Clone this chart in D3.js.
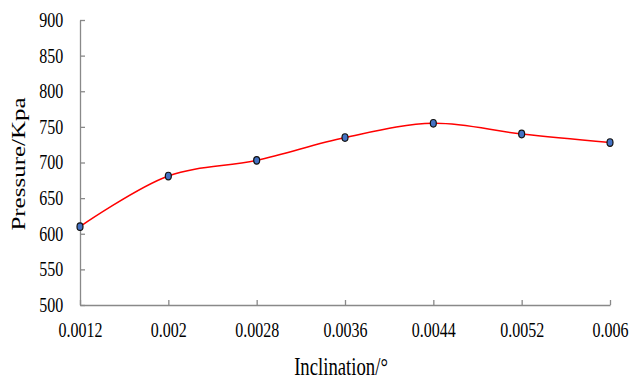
<!DOCTYPE html>
<html>
<head>
<meta charset="utf-8">
<script src="https://cdn.jsdelivr.net/npm/d3@7"></script>
<style>
  body { margin: 0; background: #fff; }
  svg text { font-family: "Times New Roman", "Liberation Serif", "DejaVu Serif", serif; }
</style>
</head>
<body>
<div id="chart"></div>
<script>
// data
const inclination = [0.0012, 0.002, 0.0028, 0.0036, 0.0044, 0.0052, 0.006];
const pressure = [610, 681, 703, 735, 755, 740, 728];
const xTicks = [0.0012, 0.002, 0.0028, 0.0036, 0.0044, 0.0052, 0.006];
const yTicks = [500, 550, 600, 650, 700, 750, 800, 850, 900];

const width = 633, height = 381;
const margin = { top: 20, right: 23, bottom: 76, left: 80 };
const squash = 0.8; // text in the picture is narrow
const serif = "'Times New Roman', 'Liberation Serif', 'DejaVu Serif', serif";

const svg = d3.select("#chart").append("svg")
  .attr("width", width)
  .attr("height", height);

const x = d3.scaleLinear()
  .domain([0.0012, 0.006])
  .range([margin.left, width - margin.right]);

const y = d3.scaleLinear()
  .domain([500, 900])
  .range([height - margin.bottom, margin.top]);

// x axis, ticks pointing inward
const xAxis = svg.append("g")
  .attr("transform", "translate(0," + (height - margin.bottom) + ")")
  .call(d3.axisBottom(x)
    .tickValues(xTicks)
    .tickFormat(d => String(+d.toFixed(4)))
    .tickSizeInner(-5)
    .tickSizeOuter(0)
    .tickPadding(18));

const yAxis = svg.append("g")
  .attr("transform", "translate(" + margin.left + ",0)")
  .call(d3.axisLeft(y)
    .tickValues(yTicks)
    .tickSizeInner(-5)
    .tickSizeOuter(0)
    .tickPadding(21));

[xAxis, yAxis].forEach(g => {
  g.attr("font-family", serif);
  g.select(".domain").attr("stroke", "#898989").attr("stroke-width", 1.3);
  g.selectAll(".tick line").attr("stroke", "#898989").attr("stroke-width", 1.3);
  g.selectAll(".tick text")
    .attr("fill", "#000")
    .style("font-size", "20px")
    .style("font-family", serif)
    .attr("transform", "scale(" + squash + ",1)");
});

// axis titles
svg.append("text")
  .attr("transform", "translate(" + 341 + "," + 375 + ") scale(0.72,1)")
  .attr("text-anchor", "middle")
  .style("font-family", serif)
  .style("font-size", "26px")
  .text("Inclination/°");

svg.append("text")
  .attr("transform", "translate(" + 25 + "," + 164 + ") scale(0.75,1) rotate(-90)")
  .attr("text-anchor", "middle")
  .style("font-family", serif)
  .style("font-size", "25px")
  .text("Pressure/Kpa");

// smoothed line
const pts = inclination.map((d, i) => [d, pressure[i]]);
const line = d3.line()
  .x(d => x(d[0]))
  .y(d => y(d[1]))
  .curve(d3.curveCatmullRom.alpha(0.5));

svg.append("path")
  .datum(pts)
  .attr("fill", "none")
  .attr("stroke", "#ff0000")
  .attr("stroke-width", 1.5)
  .attr("d", line);

svg.selectAll("ellipse")
  .data(pts)
  .enter()
  .append("ellipse")
  .attr("cx", d => x(d[0]))
  .attr("cy", d => y(d[1]))
  .attr("rx", 3)
  .attr("ry", 3.8)
  .attr("fill", "#4472c4")
  .attr("stroke", "#111")
  .attr("stroke-width", 1.2);
</script>
</body>
</html>
